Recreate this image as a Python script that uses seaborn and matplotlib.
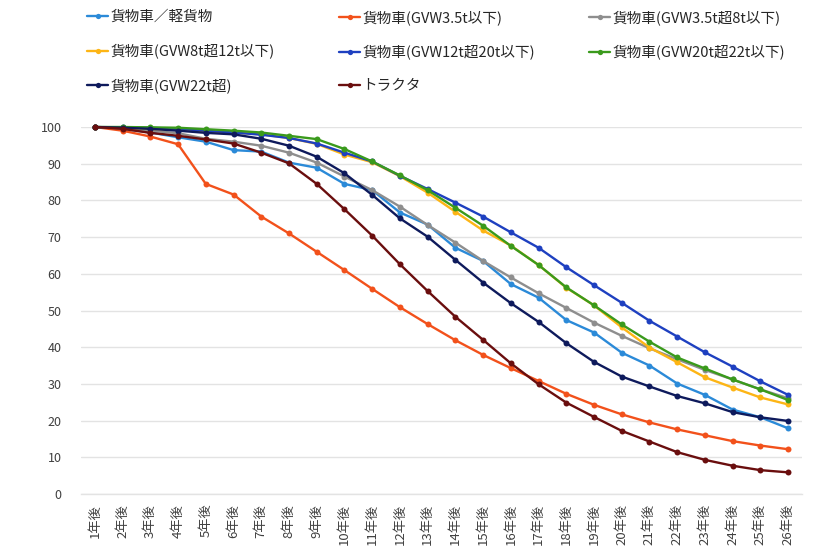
import matplotlib
matplotlib.use("Agg")
import matplotlib.pyplot as plt
import seaborn as sns
import pandas as pd
from matplotlib.lines import Line2D

years = [f"{i}年後" for i in range(1, 27)]

series_names = [
    "貨物車／軽貨物",
    "貨物車(GVW3.5t以下)",
    "貨物車(GVW3.5t超8t以下)",
    "貨物車(GVW8t超12t以下)",
    "貨物車(GVW12t超20t以下)",
    "貨物車(GVW20t超22t以下)",
    "貨物車(GVW22t超)",
    "トラクタ",
]

light_truck = [100, 99.5, 98.5, 97.2, 96.0, 93.7, 93.3, 90.3, 88.9, 84.5, 82.8, 76.7, 73.4, 67.1, 63.5, 57.2,
               53.5, 47.4, 44.0, 38.5, 35.0, 30.1, 27.0, 23.0, 20.9, 17.9]
gvw_35 = [100, 99.0, 97.4, 95.3, 84.5, 81.6, 75.6, 71.0, 66.0, 61.0, 55.9, 50.9, 46.3, 41.9, 37.9, 34.3,
          30.8, 27.3, 24.3, 21.7, 19.5, 17.6, 16.0, 14.4, 13.2, 12.2]
gvw_35_8 = [100, 99.6, 99.0, 98.3, 96.8, 96.0, 94.9, 93.0, 90.3, 86.5, 82.8, 78.3, 73.3, 68.5, 63.5, 59.0,
            54.7, 50.7, 46.7, 43.1, 39.7, 36.7, 33.8, 31.2, 28.5, 26.1]
gvw_8_12 = [100, 99.8, 99.5, 99.2, 98.8, 98.5, 98.0, 97.0, 95.4, 92.5, 90.4, 86.6, 82.1, 76.9, 71.8, 67.7,
            62.4, 56.2, 51.4, 45.4, 39.9, 35.9, 31.8, 29.0, 26.3, 24.4]
gvw_12_20 = [100, 99.9, 99.8, 99.5, 99.0, 98.5, 97.9, 97.0, 95.5, 93.0, 90.6, 86.7, 83.1, 79.4, 75.6, 71.3,
             67.1, 61.8, 56.9, 52.1, 47.2, 42.9, 38.6, 34.7, 30.7, 27.0]
gvw_20_22 = [100, 100, 99.9, 99.8, 99.4, 99.0, 98.5, 97.6, 96.7, 94.0, 90.6, 86.8, 82.8, 78.0, 73.1, 67.6,
             62.4, 56.3, 51.4, 46.2, 41.5, 37.2, 34.2, 31.2, 28.5, 25.6]
gvw_22 = [100, 99.8, 99.5, 99.0, 98.4, 98.0, 96.8, 94.9, 91.9, 87.4, 81.5, 75.1, 70.1, 63.8, 57.6, 52.0,
          46.9, 41.1, 36.0, 32.0, 29.3, 26.7, 24.7, 22.3, 20.9, 19.9]
tractor = [100, 99.5, 98.4, 97.6, 96.6, 95.5, 93.0, 90.1, 84.5, 77.6, 70.4, 62.6, 55.3, 48.3, 42.0, 35.6,
           29.9, 24.9, 21.0, 17.2, 14.3, 11.4, 9.3, 7.7, 6.5, 5.9]

all_values = [light_truck, gvw_35, gvw_35_8, gvw_8_12, gvw_12_20, gvw_20_22, gvw_22, tractor]
colors = ["#2B8AD8", "#F2511B", "#8E8E8E", "#FDB515", "#1E40C0", "#3A9A1C", "#0E1A5C", "#6A0E0E"]

rows = []
for name, vals in zip(series_names, all_values):
    for i, (y, v) in enumerate(zip(years, vals)):
        rows.append({"series": name, "idx": i, "year": y, "value": v})
df = pd.DataFrame(rows)

sns.set_theme(style="white")
plt.rcParams['font.family'] = ['Noto Sans CJK JP', 'DejaVu Sans']

fig = plt.figure(figsize=(8.17, 5.53), dpi=100)
ax = fig.add_axes([81 / 817, 1 - 494 / 553, (802 - 81) / 817, (494 - 127) / 553])

sns.lineplot(data=df, x="idx", y="value", hue="series", hue_order=series_names,
             palette=colors, marker="o", markersize=4.3, markeredgewidth=0,
             linewidth=1.7, ax=ax, legend=False, clip_on=False)

ax.set_xlim(-0.5, len(years) - 0.5)
ax.set_ylim(0, 100)
ax.set_yticks(range(0, 101, 10))
ax.set_xticks(range(len(years)))
ax.set_xticklabels(years, rotation=90, fontsize=9.5, color="#404040")
ax.tick_params(axis="y", labelsize=9, labelcolor="#404040", pad=14, length=0)
ax.tick_params(axis="x", pad=7, length=0)
ax.set_xlabel("")
ax.set_ylabel("")
ax.grid(axis="y", color="#E3E3E3", linewidth=1)
ax.set_axisbelow(True)
for s in ["top", "right", "left"]:
    ax.spines[s].set_visible(False)
ax.spines["bottom"].set_color("#E3E3E3")
ax.spines["bottom"].set_linewidth(1)

# legend: three columns, row-major order
handles = [Line2D([0], [0], color=c, lw=1.7, marker="o", markersize=3.8, markeredgewidth=0)
           for c in colors]
col_x = [87, 339, 589]
for ci, x0 in enumerate(col_x):
    idxs = [i for i in range(len(series_names)) if i % 3 == ci]
    leg = fig.legend([handles[i] for i in idxs], [series_names[i] for i in idxs],
                     loc="upper left", bbox_to_anchor=(x0 / 817, 1 - 10 / 553),
                     frameon=False, fontsize=10.5, handlelength=1.45, handletextpad=0.15,
                     labelspacing=1.35, borderaxespad=0, borderpad=0)
    for t in leg.get_texts():
        t.set_color("#262626")

fig.savefig("out.png", dpi=100)
